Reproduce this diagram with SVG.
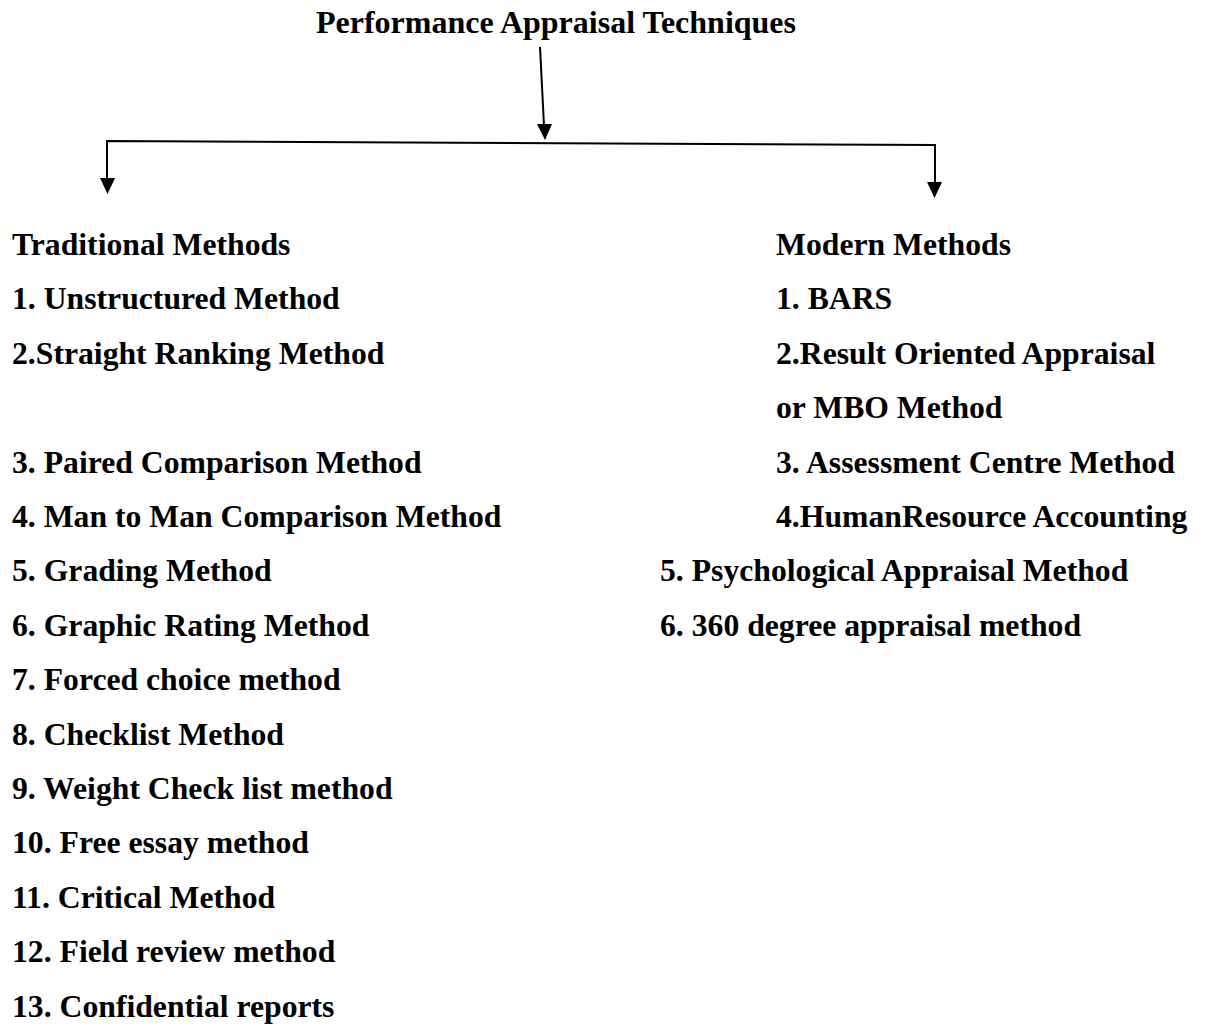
<svg xmlns="http://www.w3.org/2000/svg" width="1209" height="1033" viewBox="0 0 1209 1033">
<style>
text{font-family:"Liberation Serif","Times New Roman",serif;font-weight:bold;fill:#000;font-size:31.7px}
.title{font-size:32px}
.conn{stroke:#000;stroke-width:2;fill:none}
.head{fill:#000}
</style>
<rect width="1209" height="1033" fill="#fff"/>
<g id="title"><text class="title" x="316" y="33">Performance Appraisal Techniques</text></g>
<g id="connectors">
<line class="conn" x1="540" y1="47" x2="544" y2="126"/>
<polygon class="head" points="537,124 552,124 545,140"/>
<polyline class="conn" points="107,182 107,141 935,145 935,184"/>
<polygon class="head" points="100,178 115,178 107.5,194"/>
<polygon class="head" points="927,182 942,182 934.5,198"/>
</g>
<g id="traditional">
<text x="12" y="255">Traditional Methods</text>
<text x="12" y="309.4">1. Unstructured Method</text>
<text x="12" y="363.8">2.Straight Ranking Method</text>
<text x="12" y="472.6">3. Paired Comparison Method</text>
<text x="12" y="527">4. Man to Man Comparison Method</text>
<text x="12" y="581.4">5. Grading Method</text>
<text x="12" y="635.8">6. Graphic Rating Method</text>
<text x="12" y="690.2">7. Forced choice method</text>
<text x="12" y="744.6">8. Checklist Method</text>
<text x="12" y="799">9. Weight Check list method</text>
<text x="12" y="853.4">10. Free essay method</text>
<text x="12" y="907.8">11. Critical Method</text>
<text x="12" y="962.2">12. Field review method</text>
<text x="12" y="1016.6">13. Confidential reports</text>
</g>
<g id="modern">
<text x="776" y="255">Modern Methods</text>
<text x="776" y="309.4">1. BARS</text>
<text x="776" y="363.8">2.Result Oriented Appraisal</text>
<text x="776" y="418.2">or MBO Method</text>
<text x="776" y="472.6">3. Assessment Centre Method</text>
<text x="776" y="527">4.HumanResource Accounting</text>
<text x="660" y="581.4">5. Psychological Appraisal Method</text>
<text x="660" y="635.8">6. 360 degree appraisal method</text>
</g>
</svg>
